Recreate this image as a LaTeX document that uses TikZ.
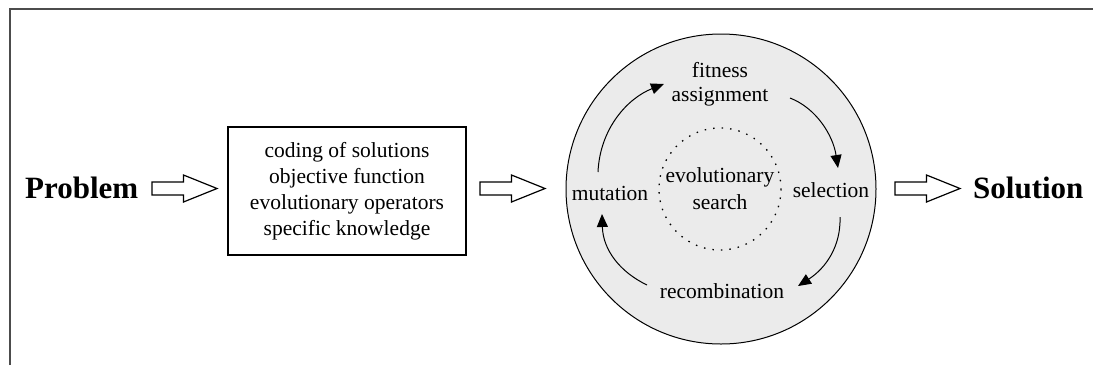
\documentclass[tikz,border=0pt]{standalone}
\usepackage{fontspec}
\setmainfont{Liberation Serif}
\usetikzlibrary{arrows.meta}
\begin{document}
\begin{tikzpicture}[x=1pt,y=-1pt,
  txt/.style={font=\fontsize{21.5}{26}\selectfont, inner sep=0pt},
  big/.style={font=\fontsize{31}{36}\selectfont\bfseries, inner sep=0pt},
  barrow/.style={draw=black, fill=white, line width=1.2pt, line join=miter},
  cyc/.style={-{Triangle[length=13pt,width=11pt]}, line width=1pt},
  frame/.style={line width=2pt, draw=black!70}]
\useasboundingbox (0,0) rectangle (1093,365);
\fill[white] (0,0) rectangle (1093,365);
\draw[frame] (10,365) -- (10,9) -- (1093,9);

% outer circle
\node[circle, draw=black, line width=1pt, fill=black!8, minimum size=310pt, inner sep=0pt] (outer) at (721,189) {};
\draw[line width=1.3pt, dash pattern=on 1.5pt off 7pt] (720,189) circle (61);

\node[big, anchor=west] (problem) at (25,188) {Problem};
\node[big, anchor=west] (solution) at (973,188) {Solution};

\node[draw=black, line width=1.2pt, minimum width=238pt, minimum height=128pt, inner sep=0pt] (box) at (347,191) {};
\node[txt, align=center] (boxtext) at (box.center) {coding of solutions\\objective function\\evolutionary operators\\specific knowledge};

\coordinate (a1) at (184.5,188.5);
\coordinate (a2) at (512.5,188.5);
\coordinate (a3) at (927.5,188.5);
\foreach \a in {a1,a2,a3}{
  \draw[barrow, shift={(\a)}] (-32.5,-6.5) -- (-1,-6.5) -- (-1,-13.5) -- (32.5,0)
     -- (-1,13.5) -- (-1,6.5) -- (-32.5,6.5) -- cycle;
}

\node[txt] (fit) at (720,70) {fitness};
\node[txt] (assign) at (720,97) {assignment};
\node[txt] (evo) at (720,177) {evolutionary};
\node[txt] (search) at (720,202) {search};
\node[txt] (mut) at (610,193) {mutation};
\node[txt] (sel) at (831,190) {selection};
\node[txt] (rec) at (722,291) {recombination};

\coordinate (m1) at (598,172);
\coordinate (f1) at (664,84);
\coordinate (s0) at (790,98);
\coordinate (s1) at (838,168);
\coordinate (r0) at (840,217);
\coordinate (r1) at (798,286);
\coordinate (q0) at (647,285);
\coordinate (q1) at (602,214);

\draw[cyc] (m1) .. controls (600,128) and (628,98) .. (f1);
\draw[cyc] (s0) .. controls (816,108) and (833,135) .. (s1);
\draw[cyc] (r0) .. controls (841,246) and (826,268) .. (r1);
\draw[cyc] (q0) .. controls (620,272) and (603,250) .. (q1);
\end{tikzpicture}
\end{document}
